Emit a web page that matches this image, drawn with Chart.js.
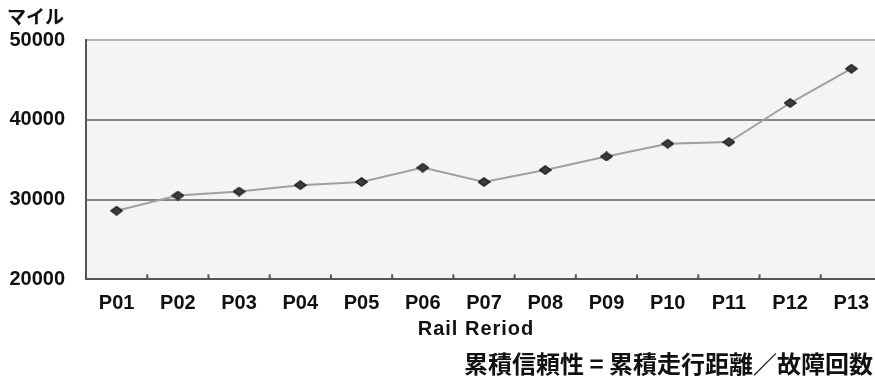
<!DOCTYPE html>
<html lang="ja">
<head>
<meta charset="utf-8">
<title>累積信頼性</title>
<script src="https://cdn.jsdelivr.net/npm/chart.js@4/dist/chart.umd.min.js"></script>
<style>
  html, body { margin: 0; padding: 0; background: #ffffff; overflow: hidden; }
  body { width: 882px; }
  #wrap { position: relative; width: 882px; height: 378px; }
</style>
</head>
<body>
<div id="wrap"><canvas id="c"></canvas></div>
<script>
// Rail periods and cumulative reliability (miles)
const periods = ['P01', 'P02', 'P03', 'P04', 'P05', 'P06', 'P07', 'P08', 'P09', 'P10', 'P11', 'P12', 'P13'];
const reliabilityMiles = [28600, 30500, 31000, 31800, 32200, 34000, 32200, 33700, 35400, 37000, 37200, 42100, 46400];
const yTicks = [20000, 30000, 40000, 50000];

const unitLabel = 'マイル';
const xAxisTitle = 'Rail Reriod';
const footnote = '累積信頼性 = 累積走行距離／故障回数';

const latinFont = '"Liberation Sans", Arial, sans-serif';
const cjkFont = '"Noto Sans CJK JP", sans-serif';

// flattened diamond marker
const marker = document.createElement('canvas');
marker.width = 13;
marker.height = 10;
(function () {
  const g = marker.getContext('2d');
  g.beginPath();
  g.moveTo(6.5, 0.8);
  g.lineTo(12.2, 5);
  g.lineTo(6.5, 9.2);
  g.lineTo(0.8, 5);
  g.closePath();
  g.fillStyle = '#3c3c3c';
  g.fill();
  g.lineWidth = 1.2;
  g.strokeStyle = '#1c1c1c';
  g.stroke();
})();

// plot background, inward category ticks, axis title, unit label and footnote
const decorations = {
  id: 'decorations',
  beforeDraw(chart) {
    const { ctx, chartArea: a } = chart;
    ctx.save();
    ctx.fillStyle = '#f4f4f4';
    ctx.fillRect(a.left, a.top, a.right - a.left, a.bottom - a.top);
    ctx.restore();
  },
  afterDatasetsDraw(chart) {
    const { ctx, chartArea: a } = chart;
    const x = chart.scales.x;
    ctx.save();
    ctx.strokeStyle = '#555555';
    ctx.lineWidth = 2;
    for (let i = 0; i < periods.length - 1; i++) {
      const bx = (x.getPixelForValue(i) + x.getPixelForValue(i + 1)) / 2;
      ctx.beginPath();
      ctx.moveTo(bx, a.bottom);
      ctx.lineTo(bx, a.bottom - 5);
      ctx.stroke();
    }
    ctx.restore();
  },
  afterDraw(chart) {
    const { ctx } = chart;
    ctx.save();
    ctx.fillStyle = '#111111';
    ctx.textBaseline = 'alphabetic';

    ctx.textAlign = 'left';
    ctx.font = 'bold 19px ' + cjkFont;
    ctx.fillText(unitLabel, 7, 24);

    ctx.textAlign = 'center';
    ctx.font = 'bold 20px ' + latinFont;
    ctx.letterSpacing = '1px';
    ctx.fillText(xAxisTitle, 476, 335);
    ctx.letterSpacing = '0px';

    ctx.textAlign = 'right';
    ctx.font = 'bold 24px ' + cjkFont;
    ctx.fillText(footnote, 873, 373);
    ctx.restore();
  }
};

new Chart(document.getElementById('c'), {
  type: 'line',
  data: {
    labels: periods,
    datasets: [{
      data: reliabilityMiles,
      borderColor: '#a0a0a0',
      borderWidth: 2,
      tension: 0,
      pointStyle: marker,
      pointRadius: 6,
      pointHoverRadius: 6
    }]
  },
  options: {
    responsive: true,
    maintainAspectRatio: false,
    animation: false,
    devicePixelRatio: 1,
    layout: { autoPadding: false, padding: { top: 40, right: 0, bottom: 50.7, left: 0 } },
    plugins: {
      legend: { display: false },
      tooltip: { enabled: false },
      title: { display: false }
    },
    scales: {
      x: {
        offset: true,
        afterFit(scale) {
          // the plot runs right up to the canvas edge
          scale.paddingLeft = 0;
          scale.paddingRight = 0;
        },
        grid: { display: true, drawOnChartArea: false, drawTicks: false, offset: true },
        border: { display: true, color: '#555555', width: 2 },
        ticks: {
          color: '#111111',
          padding: 12,
          maxRotation: 0,
          autoSkip: false,
          font: { family: latinFont, size: 20, weight: 'bold' }
        }
      },
      y: {
        min: yTicks[0],
        max: yTicks[yTicks.length - 1],
        afterBuildTicks(scale) {
          scale.ticks = yTicks.map(v => ({ value: v }));
        },
        afterFit(scale) { scale.width = 86; },
        grid: {
          drawTicks: false,
          lineWidth: 2,
          color(ctx) {
            const v = ctx.tick && ctx.tick.value;
            if (v === 50000) return '#b4b4b4';
            if (v === 20000) return '#555555';
            return '#858585';
          }
        },
        border: { display: true, color: '#555555', width: 2 },
        ticks: {
          color: '#111111',
          padding: 21,
          font: { family: latinFont, size: 20, weight: 'bold' },
          callback: (v) => String(v)
        }
      }
    }
  },
  plugins: [decorations]
});
</script>
</body>
</html>
